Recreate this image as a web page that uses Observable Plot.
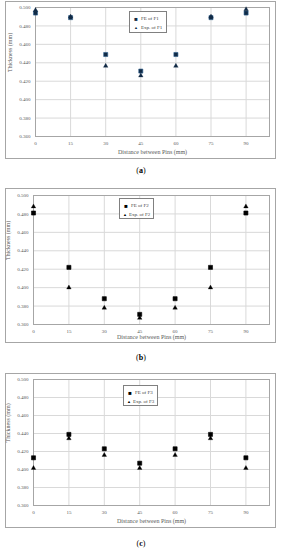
<!DOCTYPE html>
<html>
<head>
<meta charset="utf-8">
<script src="https://cdn.jsdelivr.net/npm/d3@7"></script>
<script src="https://cdn.jsdelivr.net/npm/@observablehq/plot@0.6"></script>
<style>
  html, body { margin: 0; padding: 0; background: #fff; }
  body { width: 282px; height: 550px; position: relative; overflow: hidden; font-family: "Liberation Serif", serif; }
  .panel { position: absolute; left: 0; }
  .border { position: absolute; border: 1px solid #a6a6a6; box-sizing: border-box; }
  .legend { position: absolute; border: 1px solid #808080; background: #fff; box-sizing: border-box; font-size: 5px; color: #404040; line-height: 1; padding: 2px 3px; }
  .legend div { height: 9px; display: flex; align-items: center; white-space: nowrap; }
  .legend .m { display: inline-block; width: 6px; text-align: center; margin-right: 2px; }
  .caption { position: absolute; width: 282px; text-align: center; font-size: 8px; color: #000; }
</style>
</head>
<body>
<script>
// ---- data ----
const distances = [0, 15, 30, 45, 60, 75, 90];
const xTicks = [0, 15, 30, 45, 60, 75, 90];
const yTicks = [0.36, 0.38, 0.40, 0.42, 0.44, 0.46, 0.48, 0.50];

const feF1  = [0.494, 0.489, 0.449, 0.431, 0.449, 0.489, 0.494];
const expF1 = [0.497, 0.490, 0.4365, 0.426, 0.4365, 0.490, 0.498];
const feF2  = [0.481, 0.422, 0.388, 0.371, 0.388, 0.422, 0.481];
const expF2 = [0.488, 0.400, 0.378, 0.367, 0.378, 0.400, 0.488];
const feF3  = [0.413, 0.439, 0.423, 0.407, 0.423, 0.439, 0.413];
const expF3 = [0.4015, 0.4345, 0.416, 0.4015, 0.416, 0.4345, 0.4015];

const panels = [
  { id: "a", fe: feF1, exp: expF1, feName: "FE of F1", expName: "Exp. of F1",
    top: 0, height: 165, mt: 7, mb: 29, ml: 35, tickPad: 5, titleDy: 17,
    border: [5, 1, 271, 158], legend: [129, 11, 38, 22], caption: 166,
    fill: "#112a45", stroke: "#2e5f8f" },
  { id: "b", fe: feF2, exp: expF2, feName: "FE of F2", expName: "Exp. of F2",
    top: 180, height: 165, mt: 15, mb: 21, ml: 33, tickPad: 5, titleDy: 14,
    border: [5, 188, 271, 155], legend: [119, 198, 35, 21], caption: 353,
    fill: "#000", stroke: "#000" },
  { id: "c", fe: feF3, exp: expF3, feName: "FE of F3", expName: "Exp. of F3",
    top: 365, height: 165, mt: 14, mb: 25, ml: 33, tickPad: 5, titleDy: 17,
    border: [5, 373, 271, 155], legend: [123, 385, 35, 21], caption: 539,
    fill: "#000", stroke: "#000" }
];

for (const p of panels) {
  const feData = distances.map((d, i) => ({x: d, y: p.fe[i]}));
  const expData = distances.map((d, i) => ({x: d, y: p.exp[i]}));

  const b = document.createElement("div");
  b.className = "border";
  Object.assign(b.style, {left: p.border[0] + "px", top: p.border[1] + "px", width: p.border[2] + "px", height: p.border[3] + "px"});
  document.body.appendChild(b);

  const chart = Plot.plot({
    width: 282,
    height: p.height,
    marginLeft: p.ml,
    marginRight: 13,
    marginTop: p.mt,
    marginBottom: p.mb,
    style: {fontFamily: "Liberation Serif, serif", fontSize: "5px", color: "#595959", background: "transparent", overflow: "visible"},
    x: {domain: [0, 100]},
    y: {domain: [0.36, 0.50]},
    marks: [
      Plot.gridX(xTicks, {stroke: "#d9d9d9", strokeOpacity: 1}),
      Plot.gridY(yTicks, {stroke: "#d9d9d9", strokeOpacity: 1}),
      Plot.frame({stroke: "#a6a6a6", strokeWidth: 1}),
      Plot.axisX(xTicks, {tickSize: 0, tickPadding: p.tickPad, label: null, fontSize: 5}),
      Plot.axisY(yTicks, {tickSize: 0, tickPadding: 5, tickFormat: d3.format(".3f"), label: null, fontSize: 5}),
      Plot.text(["Distance between Pins (mm)"], {frameAnchor: "bottom", dy: p.titleDy, fontSize: 6, fill: "#595959"}),
      Plot.text(["Thickness (mm)"], {frameAnchor: "left", dx: -25, rotate: -90, fontSize: 6, fill: "#595959"}),
      Plot.dot(feData, {x: "x", y: "y", symbol: "square", r: 2.3, fill: p.fill, stroke: p.stroke, strokeWidth: 0.6}),
      Plot.dot(expData, {x: "x", y: "y", symbol: "triangle", r: 1.7, fill: p.fill, stroke: p.fill, strokeWidth: 0.3})
    ]
  });
  const wrap = document.createElement("div");
  wrap.className = "panel";
  wrap.style.top = p.top + "px";
  wrap.appendChild(chart);
  document.body.appendChild(wrap);

  const lg = document.createElement("div");
  lg.className = "legend";
  Object.assign(lg.style, {left: p.legend[0] + "px", top: p.legend[1] + "px", width: p.legend[2] + "px", height: p.legend[3] + "px"});
  lg.innerHTML = `<div><span class="m" style="color:${p.fill};font-size:6px">■</span>${p.feName}</div>` +
                 `<div><span class="m" style="color:${p.fill};font-size:4px">▲</span>${p.expName}</div>`;
  document.body.appendChild(lg);

  const cap = document.createElement("div");
  cap.className = "caption";
  cap.style.top = p.caption + "px";
  cap.innerHTML = `(<b>${p.id}</b>)`;
  document.body.appendChild(cap);
}
</script>
</body>
</html>
